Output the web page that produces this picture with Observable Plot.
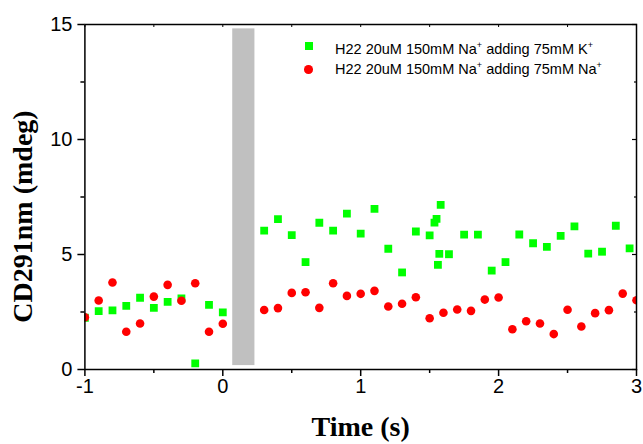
<!DOCTYPE html>
<html><head><meta charset="utf-8">
<script src="https://cdn.jsdelivr.net/npm/d3@7"></script>
<script src="https://cdn.jsdelivr.net/npm/@observablehq/plot@0.6"></script>
<style>
body{margin:0;background:#fff;}
#wrap{position:relative;width:643px;height:444px;}
.leg{position:absolute;left:335px;font-family:"Liberation Sans",Arial,sans-serif;font-size:14.5px;line-height:14.5px;height:15px;color:#000;white-space:nowrap;}
.leg sup{font-size:9px;line-height:0;vertical-align:6px;}
.mk{position:absolute;}
</style></head><body><div id="wrap"></div>
<script>
// Series: H22 20uM 150mM Na+ adding 75mM K+ (green squares)
const timeK = [-1.0,-0.9,-0.8,-0.7,-0.6,-0.5,-0.4,-0.3,-0.2,-0.1,0.0,
  0.30,0.40,0.50,0.60,0.70,0.80,0.90,1.00,1.10,1.20,1.30,1.40,1.50,1.535,1.55,1.58,1.57,1.56,1.64,
  1.75,1.85,1.95,2.05,2.15,2.25,2.35,2.45,2.55,2.65,2.75,2.85,2.95];
const valK = [2.25,2.54,2.57,2.77,3.12,2.68,2.94,3.09,0.27,2.81,2.48,
  6.04,6.54,5.84,4.67,6.38,6.04,6.78,5.91,6.98,5.25,4.22,6.00,5.83,6.39,6.55,7.16,5.03,4.55,5.01,
  5.86,5.86,4.30,4.67,5.87,5.49,5.33,5.81,6.22,5.04,5.12,6.25,5.27];
// Series: H22 20uM 150mM Na+ adding 75mM Na+ (red circles)
const timeNa = [-1.0,-0.9,-0.8,-0.7,-0.6,-0.5,-0.4,-0.3,-0.2,-0.1,0.0,
  0.3,0.4,0.5,0.6,0.7,0.8,0.9,1.0,1.1,1.2,1.3,1.4,1.5,1.6,1.7,1.8,1.9,2.0,
  2.1,2.2,2.3,2.4,2.5,2.6,2.7,2.8,2.9,3.0];
const valNa = [2.27,3.00,3.78,1.64,2.00,3.17,3.68,2.99,3.75,1.64,1.99,
  2.59,2.67,3.33,3.36,2.68,3.75,3.20,3.29,3.42,2.74,2.86,3.14,2.23,2.47,2.61,2.55,3.04,3.13,
  1.75,2.10,2.00,1.54,2.60,1.87,2.45,2.58,3.30,3.01];
// Grey mixing-dead-time bar
const barStart = [0.072], barEnd = [0.233], barLow = [0.17], barHigh = [14.81];
// Ticks
const xMajor = [-1,0,1,2,3];
const xMinor = [-0.5,0.5,1.5,2.5];
const yMajor = [0,5,10,15];
const yMinor = [2.5,7.5,12.5];
const xTitle = "Time (s)";
const yTitle = "CD291nm (mdeg)";

const dataK = timeK.map((t,i)=>({t, v: valK[i]}));
const dataNa = timeNa.map((t,i)=>({t, v: valNa[i]}));
const bars = barStart.map((s,i)=>({x1:s, x2:barEnd[i], y1:barLow[i], y2:barHigh[i]}));

const sans = "'Liberation Sans', Arial, sans-serif";
const serif = "'Liberation Serif', 'Times New Roman', serif";

const chart = Plot.plot({
  width: 643, height: 444,
  marginLeft: 84.4, marginRight: 7, marginTop: 24, marginBottom: 75,
  style: {fontFamily: sans, background: "#fff", color: "#000"},
  x: {domain: [-1, 3], label: null},
  y: {domain: [0, 15], label: null},
  marks: [
    Plot.rect(bars, {x1:"x1", x2:"x2", y1:"y1", y2:"y2", fill:"#c0c0c0"}),
    Plot.dot(dataK, {x:"t", y:"v", symbol:"square", r:4.4, fill:"#00ff00", clip:"frame"}),
    Plot.dot(dataNa, {x:"t", y:"v", symbol:"circle", r:4.3, fill:"#ff0000", clip:"frame"}),
    Plot.frame({stroke:"#000", strokeWidth:1.5}),
    Plot.axisX(xMajor, {anchor:"bottom", tickSize:7, tickPadding:2, strokeWidth:1.5, fontSize:20, tickFormat: d => String(d)}),
    Plot.axisX(xMinor, {anchor:"bottom", tickSize:4, strokeWidth:1.5, fill:"none"}),
    Plot.axisY(yMajor, {anchor:"left", tickSize:7, tickPadding:5.5, strokeWidth:1.5, fontSize:20, tickFormat: d => String(d)}),
    Plot.axisY(yMinor, {anchor:"left", tickSize:4, strokeWidth:1.5, fill:"none"}),
    Plot.axisY(yMajor, {anchor:"right", tickSize:5, dx:-5, strokeWidth:1.2, fill:"none"}),
    Plot.axisY(yMinor, {anchor:"right", tickSize:3, dx:-3, strokeWidth:1.2, fill:"none"}),
    Plot.axisX(xMajor.concat(xMinor), {anchor:"top", tickSize:2, dy:2, strokeWidth:1, fill:"none"}),
    Plot.text([xTitle], {frameAnchor:"bottom", textAnchor:"middle", lineAnchor:"middle", dy:58, fontSize:28, fontWeight:"bold", fontFamily:serif, fill:"#000"}),
    Plot.text([yTitle], {frameAnchor:"left", textAnchor:"middle", lineAnchor:"middle", rotate:-90, dx:-61.4, dy:19.5, fontSize:28, fontWeight:"bold", fontFamily:serif, fill:"#000"})
  ]
});
const wrap = document.getElementById("wrap");
wrap.appendChild(chart);

// Legend overlay
const legendItems = [
  {label: 'H22 20uM 150mM Na<sup>+</sup> adding 75mM K<sup>+</sup>', color: "#00ff00", shape: "square", top: 41.7, mTop: 41.8},
  {label: 'H22 20uM 150mM Na<sup>+</sup> adding 75mM Na<sup>+</sup>', color: "#ff0000", shape: "circle", top: 61.9, mTop: 65.4}
];
for (const it of legendItems) {
  const m = document.createElement("div");
  m.className = "mk";
  const s = it.shape === "square" ? 8 : 8.6;
  m.style.cssText = `left:${308.6 - s/2}px;top:${it.mTop}px;width:${s}px;height:${s}px;background:${it.color};border-radius:${it.shape==="circle"?"50%":"0"}`;
  wrap.appendChild(m);
  const t = document.createElement("div");
  t.className = "leg";
  t.style.top = it.top + "px";
  t.innerHTML = it.label;
  wrap.appendChild(t);
}
</script></body></html>
